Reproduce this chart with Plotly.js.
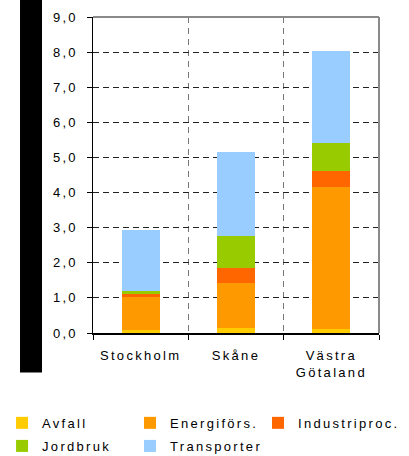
<!DOCTYPE html>
<html>
<head>
<meta charset="utf-8">
<script src="https://cdn.plot.ly/plotly-3.0.1.min.js"></script>
<style>
html,body{margin:0;padding:0;background:#fff;}
#chart{width:409px;height:456px;}
.main-svg text{letter-spacing:2.3px;}
</style>
</head>
<body>
<div id="chart"></div>
<script>
const categories = ["Stockholm", "Skåne", "Västra<br>Götaland"];
const seriesNames = ["Avfall", "Energiförs.", "Industriproc.", "Jordbruk", "Transporter"];
const avfall = [0.08, 0.14, 0.12];
const energifors = [0.95, 1.29, 4.04];
const industriproc = [0.07, 0.41, 0.45];
const jordbruk = [0.11, 0.93, 0.79];
const transporter = [1.72, 2.38, 2.62];
const colors = ["#FFCC00", "#FF9900", "#FF6600", "#99CC00", "#99CCFF"];
const values = [avfall, energifors, industriproc, jordbruk, transporter];
const legendIds = ["legend", "legend2", "legend3", "legend4", "legend5"];

const font = {family: "Liberation Sans, Arial, sans-serif", size: 13, color: "#000"};

const traces = seriesNames.map((n, i) => ({
  type: "bar",
  name: n,
  x: categories,
  y: values[i],
  legend: legendIds[i],
  marker: {color: colors[i], line: {width: 0}},
  hoverinfo: "none"
}));

// legend grid: 3 columns, 2 rows (paper coordinates)
const colX = [-0.318, 0.1294, 0.577];
const rowY = [-0.237, -0.31];
function legendAt(col, row) {
  return {
    orientation: "h",
    xref: "paper", yref: "paper",
    x: colX[col], xanchor: "left",
    y: rowY[row], yanchor: "top",
    entrywidth: 100,
    font: font,
    itemwidth: 30,
    bgcolor: "rgba(0,0,0,0)"
  };
}

const layout = {
  width: 409, height: 456,
  margin: {l: 93, r: 30, t: 17, b: 123, autoexpand: false},
  barmode: "stack",
  bargap: 0.6,
  separators: ", ",
  font: font,
  paper_bgcolor: "#fff",
  plot_bgcolor: "#fff",
  showlegend: true,
  legend: legendAt(0, 0),
  legend2: legendAt(1, 0),
  legend3: legendAt(2, 0),
  legend4: legendAt(0, 1),
  legend5: legendAt(1, 1),
  xaxis: {
    type: "category",
    tickson: "boundaries",
    ticks: "outside", ticklen: 5, tickcolor: "#000", tickwidth: 1,
    showgrid: true, gridcolor: "#777", gridwidth: 1.5, griddash: "6px,5px",
    showline: true, linecolor: "#000", linewidth: 1.5,
    tickfont: font,
    ticklabelstandoff: 10,
    automargin: false,
    fixedrange: true
  },
  yaxis: {
    range: [0, 9], dtick: 1, tick0: 0,
    tickformat: ".1f",
    ticks: "outside", ticklen: 5, tickcolor: "#000", tickwidth: 1,
    showgrid: true, gridcolor: "#222", gridwidth: 1, griddash: "6px,4px",
    showline: true, linecolor: "#000", linewidth: 1.5,
    zeroline: false,
    tickfont: font,
    ticklabelstandoff: 6,
    automargin: false,
    fixedrange: true
  },
  shapes: [
    {type: "rect", xref: "paper", yref: "paper", x0: -0.2552, x1: -0.1783, y0: -0.125, y1: 1.06,
     fillcolor: "#000", line: {width: 0}, layer: "above"},
    {type: "line", xref: "paper", yref: "paper", x0: 0, x1: 1, y0: 1, y1: 1,
     line: {color: "#8a8a8a", width: 2}, layer: "above"},
    {type: "line", xref: "paper", yref: "paper", x0: 1, x1: 1, y0: 0, y1: 1,
     line: {color: "#8a8a8a", width: 2}, layer: "above"}
  ]
};

Plotly.newPlot("chart", traces, layout, {staticPlot: true, displayModeBar: false});
</script>
</body>
</html>
